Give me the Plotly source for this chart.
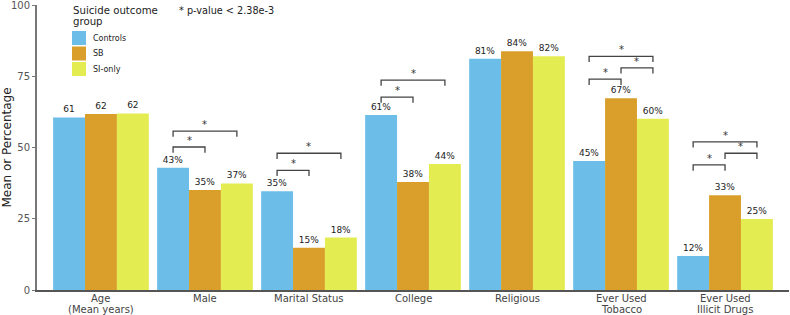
import plotly.graph_objects as go

categories = ["Age<br>(Mean years)", "Male", "Marital Status", "College", "Religious",
              "Ever Used<br>Tobacco", "Ever Used<br>Illicit Drugs"]
groups = ["Controls", "SB", "SI-only"]
controls = [60.6, 42.9, 34.7, 61.4, 81.2, 45.3, 11.9]
sb = [61.8, 35.1, 14.8, 37.9, 83.8, 67.3, 33.3]
si_only = [62.0, 37.4, 18.4, 44.2, 82.1, 60.1, 24.9]
controls_lbl = ["61", "43%", "35%", "61%", "81%", "45%", "12%"]
sb_lbl = ["62", "35%", "15%", "38%", "84%", "67%", "33%"]
si_lbl = ["62", "37%", "18%", "44%", "82%", "60%", "25%"]
y_ticks = [0, 25, 50, 75, 100]
# significance brackets: (category index, group a, group b, y level)
brackets = [
    (1, 0, 1, 50.2), (1, 0, 2, 55.8),
    (2, 0, 1, 42.0), (2, 0, 2, 48.0),
    (3, 0, 1, 67.7), (3, 0, 2, 73.7),
    (5, 0, 1, 74.0), (5, 1, 2, 78.0), (5, 0, 2, 82.0),
    (6, 0, 1, 43.9), (6, 1, 2, 48.0), (6, 0, 2, 52.0),
]

colors = ["#6CBEE9", "#DA9F2A", "#E3EC50"]
font = "DejaVu Sans"
bargap = 0.08
bw = (1 - bargap) / 3
W, H = 790, 315
ML, MR, MT, MB = 37, 1, 5, 25
PW, PH = W - ML - MR, H - MT - MB


def px(x):
    return (x - ML) / PW


def py(y):
    return (H - MB - y) / PH


fig = go.Figure()
for name, vals, lbls, c in zip(groups, [controls, sb, si_only],
                               [controls_lbl, sb_lbl, si_lbl], colors):
    fig.add_trace(go.Bar(
        x=list(range(len(categories))), y=vals, name=name, marker_color=c,
        marker_line_width=0, text=lbls, textposition="outside",
        textfont=dict(size=9, color="#222", family=font), cliponaxis=False,
        showlegend=False,
    ))

tick = 2.0
for ci, a, b, yl in brackets:
    xa = ci + (a - 1) * bw
    xb = ci + (b - 1) * bw
    fig.add_shape(type="path",
                  path=f"M {xa} {yl - tick} L {xa} {yl} L {xb} {yl} L {xb} {yl - tick}",
                  xref="x", yref="y", line=dict(color="#444", width=1.3))
    fig.add_annotation(x=(xa + xb) / 2, y=yl, text="*", showarrow=False,
                       yanchor="bottom", yshift=-1, xref="x", yref="y",
                       font=dict(size=10, color="#333", family=font))

# category labels (line by line for tight spacing)
for ci, lab in enumerate(categories):
    for li, line in enumerate(lab.split("<br>")):
        fig.add_annotation(text=line, x=ci, xref="x", yref="paper",
                           y=py(298 + 11 * li), yanchor="middle", xanchor="center",
                           showarrow=False,
                           font=dict(size=10, color="#444", family=font))

fig.add_annotation(text="* p-value < 2.38e-3", xref="paper", yref="paper",
                   x=px(177), y=py(11), xanchor="left", yanchor="middle",
                   showarrow=False, font=dict(size=9.7, color="#222", family=font))

# legend drawn manually
for li, line in enumerate(["Suicide outcome", "group"]):
    fig.add_annotation(text=line, xref="paper", yref="paper",
                       x=px(71), y=py(10 + 12 * li), xanchor="left", yanchor="middle",
                       showarrow=False, font=dict(size=10.2, color="#222", family=font))
for i, (name, c) in enumerate(zip(groups, colors)):
    top = 31 + i * 15.5
    fig.add_shape(type="rect", xref="paper", yref="paper",
                  x0=px(72), x1=px(86), y0=py(top + 14), y1=py(top),
                  fillcolor=c, line=dict(width=0))
    fig.add_annotation(text=name, xref="paper", yref="paper",
                       x=px(91), y=py(top + 7), xanchor="left", yanchor="middle",
                       showarrow=False, font=dict(size=8, color="#222", family=font))

fig.update_layout(
    width=W, height=H, barmode="group", bargap=bargap, bargroupgap=0,
    plot_bgcolor="white", paper_bgcolor="white",
    margin=dict(l=ML, r=MR, t=MT, b=MB),
    font=dict(family=font),
    showlegend=False,
    xaxis=dict(tickmode="array", tickvals=list(range(len(categories))),
               ticktext=[""] * len(categories), range=[-0.615, 6.615],
               showline=True, linecolor="#555", linewidth=2, ticks="",
               showticklabels=False,
               showgrid=False, zeroline=False, automargin=False),
    yaxis=dict(range=[0, 100.05], tickmode="array", tickvals=y_ticks,
               ticktext=[str(t) for t in y_ticks], ticklabeloverflow="allow",
               showline=True, linecolor="#777", linewidth=2, ticks="outside",
               ticklen=3, tickcolor="#777", tickwidth=1,
               tickfont=dict(size=10, color="#555", family=font),
               showgrid=False, zeroline=False, automargin=False,
               title=dict(text="Mean or Percentage", standoff=8,
                          font=dict(size=12, color="#222", family=font))),
)

fig.write_html("out.html", config={"displayModeBar": False},
               post_script="document.body.style.margin='0';document.body.style.overflow='hidden';")
